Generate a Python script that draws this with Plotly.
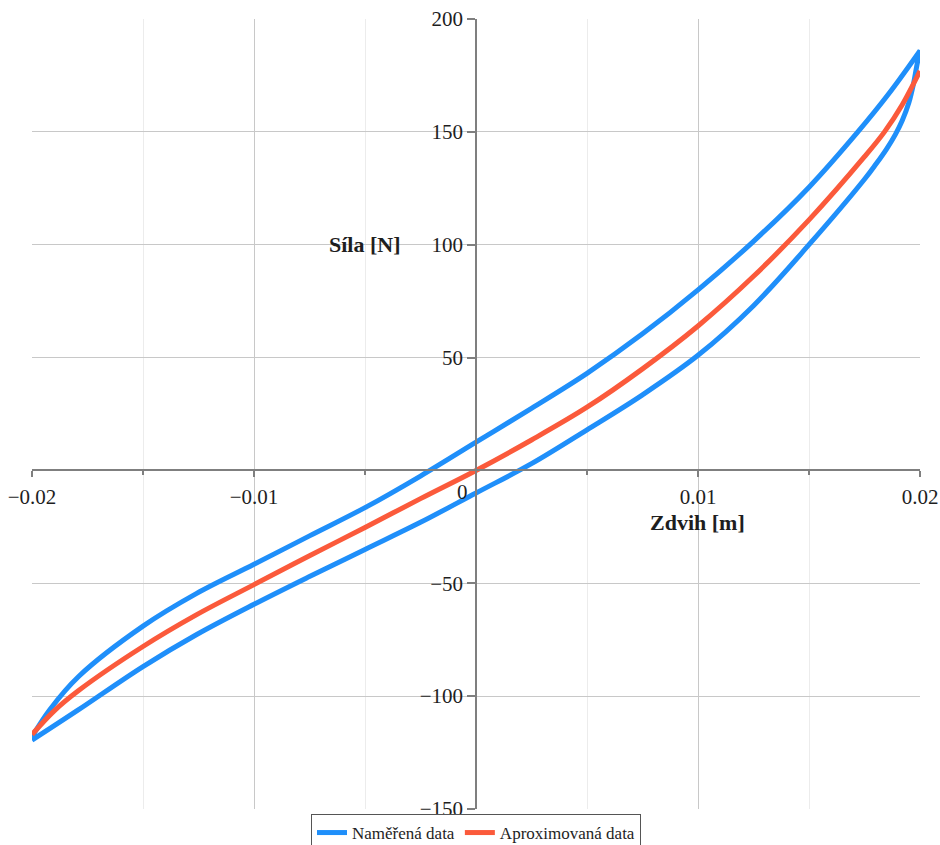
import plotly.graph_objects as go

# Measured hysteresis loop: upper branch (left to right) and lower branch (right to left)
zdvih_horni = [-0.02, -0.0192, -0.0179, -0.015, -0.0126, -0.01, -0.0075, -0.005,
               -0.0025, 0.0, 0.0025, 0.005, 0.0075, 0.01, 0.0125, 0.015, 0.0172,
               0.0186, 0.02]
sila_horni = [-118, -106, -91.3, -69, -54.6, -41.6, -29, -16.5,
              -2.5, 12.5, 27.5, 43, 60.5, 80, 101.5, 125.5, 150,
              167, 186]

zdvih_dolni = [0.02, 0.01985, 0.0197, 0.0195, 0.0192, 0.0189, 0.0185, 0.018,
               0.0175, 0.015, 0.0125, 0.01, 0.0075, 0.005, 0.0025, 0.0,
               -0.0025, -0.005, -0.0075, -0.01, -0.0126, -0.015, -0.0179, -0.02]
sila_dolni = [186, 179, 171, 163, 155, 149, 142.5, 135.5,
              129, 100, 73, 51, 33.5, 18, 3, -10,
              -23, -35, -47, -59.3, -72.8, -86.9, -106, -119.5]

# Approximating curve
zdvih_aprox = [-0.02, -0.019, -0.0179, -0.015, -0.0126, -0.01, -0.0075, -0.005,
               -0.0025, 0.0, 0.0025, 0.005, 0.0075, 0.01, 0.0125, 0.015, 0.0175,
               0.0184, 0.0192, 0.02]
sila_aprox = [-117, -106.5, -97.5, -78, -64, -50.6, -37.8, -25.3,
              -12.5, 0, 13.5, 28, 45, 64, 86, 111, 139,
              150, 162, 177]

x_ticks = [-0.02, -0.01, 0.0, 0.01, 0.02]
x_tick_text = ["\u22120.02", "\u22120.01", "", "0.01", "0.02"]
y_ticks = [-150, -100, -50, 50, 100, 150, 200]
y_tick_text = ["\u2212150", "\u2212100", "\u221250", "50", "100", "150", "200"]

FONT = "Liberation Serif"
BLUE = "#1f8ffa"
RED = "#fb5a3b"
TEXT = "#1e1e1e"

fig = go.Figure()
fig.add_trace(go.Scatter(
    x=zdvih_horni + zdvih_dolni, y=sila_horni + sila_dolni,
    mode="lines", name="Naměřená data",
    line=dict(color=BLUE, width=5, shape="spline", smoothing=1.0),
))
fig.add_trace(go.Scatter(
    x=zdvih_aprox, y=sila_aprox,
    mode="lines", name="Aproximovaná data",
    line=dict(color=RED, width=5, shape="spline", smoothing=1.0),
))

y_min, y_max = -150, 200

fig.update_layout(
    width=940, height=845,
    margin=dict(l=32, r=20, t=19, b=36, autoexpand=False),
    paper_bgcolor="white", plot_bgcolor="white",
    font=dict(family=FONT, size=18, color=TEXT),
    showlegend=True,
    legend=dict(
        orientation="h", x=0.5, xanchor="center",
        yref="container", y=(845 - 814) / 845, yanchor="top",
        bgcolor="white", bordercolor="#555", borderwidth=1,
        font=dict(family=FONT, size=17, color=TEXT),
        itemwidth=30, tracegroupgap=0,
    ),
    xaxis=dict(
        range=[-0.02, 0.02], automargin=False,
        anchor="free", position=(0 - y_min) / (y_max - y_min),
        tickmode="array", tickvals=x_ticks, ticktext=x_tick_text,
        showline=True, linecolor="#7f7f7f", linewidth=1.5,
        ticks="outside", ticklen=6, tickcolor="#7f7f7f", tickwidth=1.5,
        ticklabelstandoff=2,
        showgrid=True, gridcolor="#c8c8c8", gridwidth=1,
        minor=dict(dtick=0.005, tick0=0, showgrid=True, gridcolor="#ececec",
                   ticks="outside", ticklen=4, tickcolor="#7f7f7f"),
        zeroline=False,
        tickfont=dict(family=FONT, size=21, color=TEXT),
    ),
    yaxis=dict(
        range=[y_min, y_max], automargin=False,
        anchor="free", position=0.5,
        tickmode="array", tickvals=y_ticks, ticktext=y_tick_text,
        showline=True, linecolor="#7f7f7f", linewidth=1.5,
        ticks="outside", ticklen=8, tickcolor="#7f7f7f", tickwidth=1.5,
        showgrid=True, gridcolor="#c8c8c8", gridwidth=1,
        zeroline=False,
        tickfont=dict(family=FONT, size=21, color=TEXT),
    ),
)

# Origin label and axis titles placed beside the crossing axes
fig.add_annotation(x=-0.0006, y=-9.4, text="0", showarrow=False,
                   font=dict(family=FONT, size=21, color=TEXT))
fig.add_annotation(x=-0.005, y=100, text="<b>Síla [N]</b>", showarrow=False,
                   font=dict(family=FONT, size=22, color=TEXT))
fig.add_annotation(x=0.00997, y=-23.2, text="<b>Zdvih [m]</b>", showarrow=False,
                   font=dict(family=FONT, size=22, color=TEXT))

fig.write_html("out.html")
